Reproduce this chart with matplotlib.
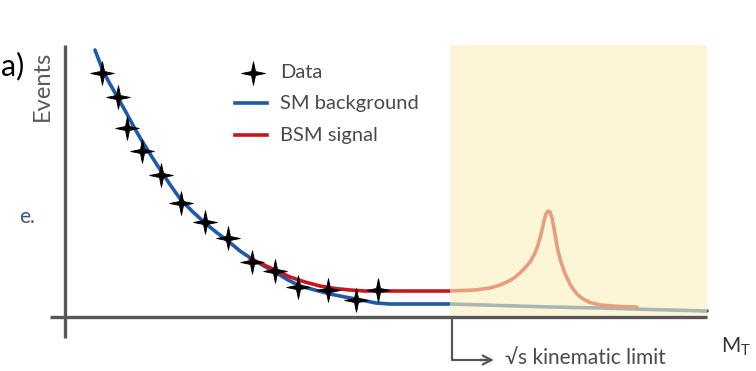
import numpy as np
import matplotlib
matplotlib.use("Agg")
import matplotlib.pyplot as plt
from matplotlib.path import Path
from matplotlib.patches import Rectangle

plt.rcParams['font.family'] = ['Lato', 'DejaVu Sans']

# ---- data (canvas units: x to the right, y downward) ----
data_x = [102, 118, 127, 142, 161, 181, 205, 228, 252, 275, 298, 328, 356, 378]
data_y = [73, 97, 128, 151, 175, 203, 222, 238, 262, 271, 287, 290, 300, 290]

bg_x = [95, 103, 110, 118, 127, 135, 142, 152, 161, 171, 181, 193, 205, 216, 228,
        240, 252, 264, 275, 288, 300, 315, 330, 345, 356, 366, 376, 390, 450,
        500, 550, 600, 650, 707]
bg_y = [50, 71, 84, 98, 114, 129, 141, 157, 171, 186, 200, 212, 223, 232, 241,
        251, 259, 266, 272, 280, 286, 290, 294, 297, 299, 301, 303, 304, 304,
        305.5, 307, 308, 309.5, 311]

sig_x = [250, 262, 275, 290, 305, 320, 335, 350, 365, 380, 450, 475, 490, 500,
         507, 514, 520, 525, 530, 534, 537, 540, 542, 544, 546, 548, 550, 552,
         554, 556, 558, 561, 564, 567, 570, 573, 577, 583, 590, 600, 620, 637]
sig_y = [259, 264, 270, 277, 282, 286, 288.5, 290, 291, 291, 291, 290, 288, 285,
         282, 278, 273, 268, 262, 255, 248, 238, 230, 221, 214, 211, 212, 218,
         228, 240, 251, 262, 271, 278, 284, 289, 294, 299, 302.5, 305, 306.5, 307]

legend_labels = ["Data", "SM background", "BSM signal"]

# layout
x_axis_y, x_axis_x0, x_axis_x1 = 317, 50, 707
y_axis_x, y_axis_y0, y_axis_y1 = 64.5, 45, 338
limit_x = 451.5
region_x0, region_x1, region_top = 450, 707, 45

BLUE = "#1f5aa8"
RED = "#c8161e"
AXIS = "#575757"
TEXT = "#4a4a4a"
LW = 2.6

# thin four-pointed star marker
ang = np.arange(8) * np.pi / 4 + np.pi / 2
rad = np.where(np.arange(8) % 2 == 0, 1.0, 0.24)
verts = np.column_stack([rad * np.cos(ang), rad * np.sin(ang)])
verts = np.vstack([verts, verts[:1]])
codes = [Path.MOVETO] + [Path.LINETO] * 7 + [Path.CLOSEPOLY]
star = Path(verts, codes)

fig = plt.figure(figsize=(7.56, 3.71), dpi=100)
ax = fig.add_axes([0, 0, 1, 1])
ax.set_xlim(0, 756)
ax.set_ylim(371, 0)
ax.axis("off")

# curves
ax.plot(bg_x, bg_y, color=BLUE, lw=LW, solid_capstyle="round",
        solid_joinstyle="round", zorder=2)
ax.plot(sig_x, sig_y, color=RED, lw=LW, solid_capstyle="round",
        solid_joinstyle="round", zorder=3)

# region beyond the kinematic limit (translucent, tints the curves below it)
ax.add_patch(Rectangle((region_x0, region_top), region_x1 - region_x0,
                       x_axis_y - region_top, facecolor="#fdf1bd", alpha=0.62,
                       edgecolor="none", zorder=4))

# data points
ax.plot(data_x, data_y, linestyle="none", marker=star, markersize=17,
        color="black", markeredgewidth=0.6, zorder=6)

# axes
ax.plot([x_axis_x0, x_axis_x1], [x_axis_y, x_axis_y], color=AXIS, lw=2.4,
        solid_capstyle="butt", zorder=5)
ax.plot([y_axis_x, y_axis_x], [y_axis_y0, y_axis_y1], color=AXIS, lw=2.4,
        solid_capstyle="butt", zorder=5)

# kinematic limit marker
ax.plot([limit_x, limit_x, 490], [x_axis_y, 360, 360], color=AXIS, lw=1.6,
        solid_capstyle="butt", zorder=5)
ax.annotate("", xy=(494, 360), xytext=(480, 360),
            arrowprops=dict(arrowstyle="->", color=AXIS, lw=1.6,
                            mutation_scale=16, shrinkA=0, shrinkB=0))
ax.text(505, 358, "√s kinematic limit", fontsize=15, color=TEXT,
        ha="left", va="center")

# legend
leg_y = [73, 103, 135]
ax.plot([253], [leg_y[0]], linestyle="none", marker=star, markersize=17,
        color="black", markeredgewidth=0.6)
ax.plot([235, 267], [leg_y[1], leg_y[1]], color=BLUE, lw=LW)
ax.plot([235, 267], [leg_y[2], leg_y[2]], color=RED, lw=LW)
for lab, yy in zip(legend_labels, leg_y):
    ax.text(280, yy, lab, fontsize=14.5, color=TEXT, ha="left", va="center")

# axis titles and panel label
ax.text(42, 86, "Events", fontsize=17, color="#5a5a5a", rotation=90,
        ha="center", va="center")
ax.text(751, 352, "M$_\\mathregular{T}$", fontsize=15, color="#333333",
        ha="right", va="baseline")
ax.text(1, 75, "a)", fontsize=22, color="black", ha="left", va="baseline")
ax.text(19, 223, "e.", fontsize=15, color="#3b5378", ha="left", va="baseline")

fig.savefig("out.png", dpi=100)
